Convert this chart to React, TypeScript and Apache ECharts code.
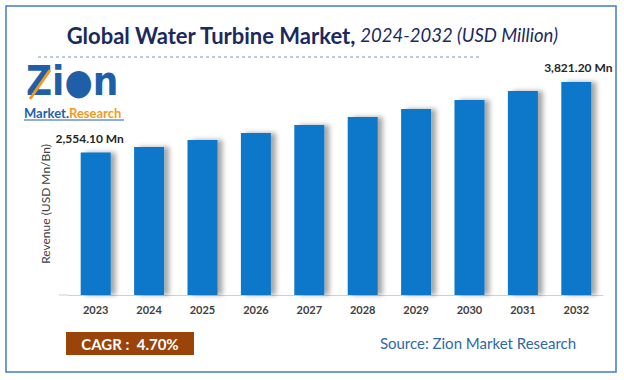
import React, { useEffect, useRef } from "react";
import * as echarts from "echarts";

const years = ["2023", "2024", "2025", "2026", "2027", "2028", "2029", "2030", "2031", "2032"];
const revenue = [2554.1, 2655, 2781, 2906, 3050, 3193, 3337, 3498, 3660, 3821.2];
const valueLabels = ["2,554.10 Mn", "", "", "", "", "", "", "", "", "3,821.20 Mn"];
const titleMain = "Global Water Turbine Market,";
const titleSub = " 2024-2032 (USD Million)";
const yAxisName = "Revenue (USD Mn/Bn)";
const cagrText = "CAGR :  4.70%";
const sourceText = "Source: Zion Market Research";

const FONT = "Lato, 'Open Sans', sans-serif";
const LOGO_FONT = "'DejaVu Sans Condensed', 'DejaVu Sans', sans-serif";

export default function App() {
  const ref = useRef<HTMLDivElement>(null);
  useEffect(() => {
    if (!ref.current) return;
    const chart = echarts.init(ref.current, null, { renderer: "svg" });
    const data = revenue.map((v, i) => ({
      value: v,
      label: {
        show: valueLabels[i] !== "",
        formatter: valueLabels[i],
        position: "top",
        offset: i === 0 ? [-6, -3] : [2, -3],
        color: "#262626",
        fontWeight: "bold",
        fontSize: 12,
        fontFamily: FONT,
      },
    }));
    chart.setOption({
      animation: false,
      backgroundColor: "#ffffff",
      title: {
        text: `{a|${titleMain}}{b|${titleSub}}`,
        left: "center",
        top: 19,
        textStyle: {
          rich: {
            a: { fontSize: 22, fontWeight: "bold", color: "#1b2a5e", fontFamily: FONT },
            b: { fontSize: 18.5, fontWeight: "normal", fontStyle: "italic", color: "#1b2a5e", fontFamily: FONT },
          },
        },
      },
      grid: { left: 69, right: 21, top: 72, bottom: 85 },
      xAxis: {
        type: "category",
        data: years,
        axisLine: { lineStyle: { color: "#d0d0d0", width: 1 } },
        axisTick: { show: false },
        axisLabel: { color: "#404040", fontWeight: "bold", fontSize: 11, margin: 9, fontFamily: FONT },
      },
      yAxis: {
        type: "value",
        min: 0,
        max: 4000,
        axisLine: { show: false },
        axisTick: { show: false },
        axisLabel: { show: false },
        splitLine: { show: false },
      },
      series: [
        {
          type: "bar",
          data,
          barWidth: 30,
          itemStyle: {
            color: "#0a77ca",
            shadowColor: "rgba(0,0,0,0.35)",
            shadowBlur: 5,
            shadowOffsetX: 5,
            shadowOffsetY: 0,
          },
        },
      ],
      graphic: [
        {
          type: "rect",
          shape: { x: 6, y: 6, width: 610, height: 366 },
          style: { fill: "none", stroke: "#3d7fc4", lineWidth: 1.5 },
          silent: true,
        },
        {
          type: "line",
          shape: { x1: 38, y1: 57, x2: 482, y2: 57 },
          style: { stroke: "#7f93c4", lineWidth: 1, lineDash: [3, 3] },
        },
        {
          type: "line",
          shape: { x1: 59, y1: 295, x2: 69, y2: 295 },
          style: { stroke: "#d0d0d0", lineWidth: 1 },
        },
        {
          type: "text",
          x: 45,
          y: 204,
          rotation: Math.PI / 2,
          style: {
            text: yAxisName,
            fill: "#404040",
            fontSize: 12,
            fontFamily: FONT,
            align: "center",
            verticalAlign: "middle",
          },
        },
        {
          type: "text",
          left: 26,
          top: 61,
          style: {
            text: "{z|Zi}{o|●}{n|n}",
            rich: {
              z: { fontSize: 40, lineHeight: 40, fontWeight: "bold", fill: "#1f5fa8", fontFamily: LOGO_FONT },
              o: { fontSize: 36, lineHeight: 40, fill: "#1f5fa8", fontFamily: LOGO_FONT },
              n: { fontSize: 40, lineHeight: 40, fontWeight: "bold", fill: "#1f5fa8", fontFamily: LOGO_FONT },
            },
          },
        },
        {
          type: "line",
          shape: { x1: 30, y1: 99, x2: 50, y2: 70 },
          style: { stroke: "#f39a1e", lineWidth: 3 },
        },
        {
          type: "text",
          left: 24,
          top: 106,
          style: {
            text: "{m|Market.}{r|Research}",
            rich: {
              m: { fontSize: 13, lineHeight: 13, fontWeight: "bold", fill: "#1f5fa8", fontFamily: FONT },
              r: { fontSize: 13, lineHeight: 13, fontWeight: "bold", fill: "#f39a1e", fontFamily: FONT },
            },
          },
        },
        {
          type: "line",
          shape: { x1: 24, y1: 120, x2: 124, y2: 120 },
          style: { stroke: "#1f5fa8", lineWidth: 1 },
        },
        {
          type: "rect",
          shape: { x: 66, y: 332, width: 128, height: 23 },
          style: { fill: "#9a440a" },
        },
        {
          type: "text",
          x: 130,
          y: 344,
          style: {
            text: cagrText,
            fill: "#ffffff",
            fontSize: 15,
            fontWeight: "bold",
            fontFamily: FONT,
            align: "center",
            verticalAlign: "middle",
          },
        },
        {
          type: "text",
          x: 478,
          y: 343,
          style: {
            text: sourceText,
            fill: "#2e68a8",
            fontSize: 15,
            fontFamily: FONT,
            align: "center",
            verticalAlign: "middle",
          },
        },
      ],
    });
    return () => chart.dispose();
  }, []);
  return <div ref={ref} style={{ position: "fixed", left: 0, top: 0, width: 624, height: 380 }} />;
}
